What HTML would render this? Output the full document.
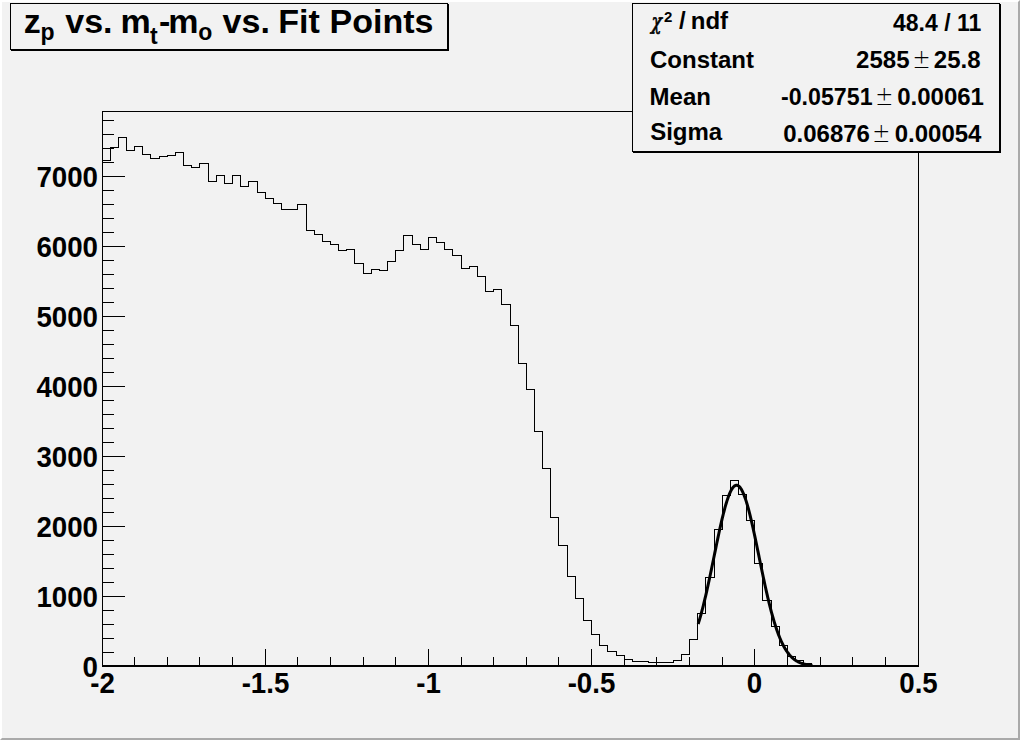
<!DOCTYPE html>
<html><head><meta charset="utf-8">
<style>
html,body{margin:0;padding:0;background:#f2f2f2;}
svg{display:block;}
</style></head>
<body>
<svg width="1020" height="740" viewBox="0 0 1020 740" font-family="'Liberation Sans',Arial,Helvetica,sans-serif" font-weight="bold">
<rect x="0" y="0" width="1020" height="740" fill="#f2f2f2"/>
<!-- canvas bevel -->
<path d="M0,0 H1020 L1018,2 H2 V738 L0,740 Z" fill="#ffffff"/>
<path d="M1020,0 V740 H0 L2,738 H1018 V2 Z" fill="#aaaaaa"/>
<!-- frame -->
<g fill="none" stroke="#000" stroke-width="1" shape-rendering="crispEdges">
<rect x="102.5" y="111.5" width="816" height="554"/>
<path d="M102.5,666.5 h22 M102.5,652.5 h11 M102.5,638.5 h11 M102.5,624.5 h11 M102.5,610.5 h11 M102.5,596.5 h22 M102.5,582.5 h11 M102.5,568.5 h11 M102.5,554.5 h11 M102.5,540.5 h11 M102.5,526.5 h22 M102.5,512.5 h11 M102.5,498.5 h11 M102.5,484.5 h11 M102.5,470.5 h11 M102.5,456.5 h22 M102.5,442.5 h11 M102.5,428.5 h11 M102.5,414.5 h11 M102.5,400.5 h11 M102.5,386.5 h22 M102.5,372.5 h11 M102.5,358.5 h11 M102.5,344.5 h11 M102.5,330.5 h11 M102.5,316.5 h22 M102.5,302.5 h11 M102.5,288.5 h11 M102.5,274.5 h11 M102.5,260.5 h11 M102.5,246.5 h22 M102.5,232.5 h11 M102.5,218.5 h11 M102.5,204.5 h11 M102.5,190.5 h11 M102.5,176.5 h22 M102.5,162.5 h11 M102.5,148.5 h11 M102.5,134.5 h11 M102.5,120.5 h11 M102.5,665 v-16 M134.5,665 v-8 M167.5,665 v-8 M199.5,665 v-8 M232.5,665 v-8 M265.5,665 v-16 M297.5,665 v-8 M330.5,665 v-8 M363.5,665 v-8 M395.5,665 v-8 M428.5,665 v-16 M461.5,665 v-8 M493.5,665 v-8 M526.5,665 v-8 M558.5,665 v-8 M591.5,665 v-16 M624.5,665 v-8 M656.5,665 v-8 M689.5,665 v-8 M722.5,665 v-8 M754.5,665 v-16 M787.5,665 v-8 M820.5,665 v-8 M852.5,665 v-8 M885.5,665 v-8 M918.5,665 v-16"/>
</g>
<line x1="102" y1="666" x2="919" y2="666" stroke="#000" stroke-width="2" shape-rendering="crispEdges"/>
<path d="M102.5,160.5 L110.5,160.5 L110.5,147.5 L118.5,147.5 L118.5,137.5 L126.5,137.5 L126.5,150.5 L134.5,150.5 L134.5,146.5 L142.5,146.5 L142.5,154.5 L150.5,154.5 L150.5,158.5 L159.5,158.5 L159.5,156.5 L167.5,156.5 L167.5,155.5 L175.5,155.5 L175.5,152.5 L183.5,152.5 L183.5,165.5 L191.5,165.5 L191.5,167.5 L199.5,167.5 L199.5,163.5 L208.5,163.5 L208.5,181.5 L216.5,181.5 L216.5,175.5 L224.5,175.5 L224.5,183.5 L232.5,183.5 L232.5,175.5 L240.5,175.5 L240.5,186.5 L248.5,186.5 L248.5,181.5 L257.5,181.5 L257.5,192.5 L265.5,192.5 L265.5,198.5 L273.5,198.5 L273.5,203.5 L281.5,203.5 L281.5,209.5 L289.5,209.5 L289.5,209.5 L297.5,209.5 L297.5,204.5 L306.5,204.5 L306.5,230.5 L314.5,230.5 L314.5,234.5 L322.5,234.5 L322.5,241.5 L330.5,241.5 L330.5,244.5 L338.5,244.5 L338.5,250.5 L346.5,250.5 L346.5,249.5 L354.5,249.5 L354.5,263.5 L363.5,263.5 L363.5,273.5 L371.5,273.5 L371.5,269.5 L379.5,269.5 L379.5,270.5 L387.5,270.5 L387.5,261.5 L395.5,261.5 L395.5,250.5 L403.5,250.5 L403.5,235.5 L412.5,235.5 L412.5,244.5 L420.5,244.5 L420.5,249.5 L428.5,249.5 L428.5,237.5 L436.5,237.5 L436.5,242.5 L444.5,242.5 L444.5,249.5 L452.5,249.5 L452.5,255.5 L461.5,255.5 L461.5,268.5 L469.5,268.5 L469.5,266.5 L477.5,266.5 L477.5,276.5 L485.5,276.5 L485.5,291.5 L493.5,291.5 L493.5,289.5 L501.5,289.5 L501.5,304.5 L510.5,304.5 L510.5,325.5 L518.5,325.5 L518.5,363.5 L526.5,363.5 L526.5,389.5 L534.5,389.5 L534.5,431.5 L542.5,431.5 L542.5,468.5 L550.5,468.5 L550.5,517.5 L558.5,517.5 L558.5,545.5 L567.5,545.5 L567.5,576.5 L575.5,576.5 L575.5,598.5 L583.5,598.5 L583.5,620.5 L591.5,620.5 L591.5,634.5 L599.5,634.5 L599.5,645.5 L607.5,645.5 L607.5,651.5 L616.5,651.5 L616.5,655.5 L624.5,655.5 L624.5,659.5 L632.5,659.5 L632.5,661.5 L640.5,661.5 L640.5,661.5 L648.5,661.5 L648.5,662.5 L656.5,662.5 L656.5,662.5 L665.5,662.5 L665.5,662.5 L673.5,662.5 L673.5,660.5 L681.5,660.5 L681.5,654.5 L689.5,654.5 L689.5,639.5 L697.5,639.5 L697.5,613.5 L705.5,613.5 L705.5,577.5 L714.5,577.5 L714.5,529.5 L722.5,529.5 L722.5,495.5 L730.5,495.5 L730.5,480.5 L738.5,480.5 L738.5,494.5 L746.5,494.5 L746.5,520.5 L754.5,520.5 L754.5,563.5 L762.5,563.5 L762.5,600.5 L771.5,600.5 L771.5,626.5 L779.5,626.5 L779.5,645.5 L787.5,645.5 L787.5,656.5 L795.5,656.5 L795.5,660.5 L803.5,660.5 L803.5,663.5 L811.5,663.5 L811.5,666.5 L820.5,666.5 L820.5,666.5 L828.5,666.5 L828.5,666.5 L836.5,666.5 L836.5,666.5 L844.5,666.5 L844.5,666.5 L852.5,666.5 L852.5,666.5 L860.5,666.5 L860.5,666.5 L869.5,666.5 L869.5,666.5 L877.5,666.5 L877.5,666.5 L885.5,666.5 L885.5,666.5 L893.5,666.5 L893.5,666.5 L901.5,666.5 L901.5,666.5 L909.5,666.5 L909.5,666.5 L918.5,666.5" fill="none" stroke="#000" stroke-width="1" shape-rendering="crispEdges"/>
<path d="M698.18,624.01 L698.75,622.16 L699.32,620.26 L699.89,618.30 L700.46,616.29 L701.04,614.23 L701.61,612.13 L702.18,609.97 L702.75,607.76 L703.32,605.51 L703.89,603.21 L704.46,600.86 L705.03,598.47 L705.61,596.04 L706.18,593.56 L706.75,591.05 L707.32,588.50 L707.89,585.92 L708.46,583.30 L709.03,580.65 L709.60,577.98 L710.18,575.28 L710.75,572.56 L711.32,569.82 L711.89,567.06 L712.46,564.29 L713.03,561.51 L713.60,558.72 L714.17,555.93 L714.74,553.14 L715.32,550.36 L715.89,547.58 L716.46,544.81 L717.03,542.06 L717.60,539.33 L718.17,536.63 L718.74,533.95 L719.31,531.30 L719.89,528.69 L720.46,526.12 L721.03,523.59 L721.60,521.11 L722.17,518.69 L722.74,516.32 L723.31,514.01 L723.88,511.76 L724.46,509.59 L725.03,507.48 L725.60,505.45 L726.17,503.50 L726.74,501.64 L727.31,499.85 L727.88,498.16 L728.45,496.56 L729.02,495.06 L729.60,493.66 L730.17,492.35 L730.74,491.15 L731.31,490.06 L731.88,489.07 L732.45,488.19 L733.02,487.43 L733.59,486.77 L734.17,486.23 L734.74,485.81 L735.31,485.50 L735.88,485.31 L736.45,485.24 L737.02,485.28 L737.59,485.44 L738.16,485.71 L738.74,486.11 L739.31,486.61 L739.88,487.24 L740.45,487.97 L741.02,488.82 L741.59,489.78 L742.16,490.84 L742.73,492.01 L743.30,493.29 L743.88,494.67 L744.45,496.14 L745.02,497.72 L745.59,499.38 L746.16,501.14 L746.73,502.98 L747.30,504.91 L747.87,506.92 L748.45,509.00 L749.02,511.16 L749.59,513.39 L750.16,515.68 L750.73,518.03 L751.30,520.44 L751.87,522.91 L752.44,525.42 L753.02,527.98 L753.59,530.58 L754.16,533.22 L754.73,535.89 L755.30,538.59 L755.87,541.31 L756.44,544.06 L757.01,546.82 L757.58,549.59 L758.16,552.38 L758.73,555.16 L759.30,557.95 L759.87,560.74 L760.44,563.53 L761.01,566.30 L761.58,569.06 L762.15,571.81 L762.73,574.53 L763.30,577.24 L763.87,579.92 L764.44,582.58 L765.01,585.20 L765.58,587.80 L766.15,590.35 L766.72,592.88 L767.30,595.36 L767.87,597.81 L768.44,600.21 L769.01,602.57 L769.58,604.88 L770.15,607.15 L770.72,609.37 L771.29,611.54 L771.86,613.66 L772.44,615.73 L773.01,617.75 L773.58,619.72 L774.15,621.64 L774.72,623.51 L775.29,625.32 L775.86,627.09 L776.43,628.80 L777.01,630.45 L777.58,632.06 L778.15,633.61 L778.72,635.12 L779.29,636.57 L779.86,637.97 L780.43,639.32 L781.00,640.63 L781.58,641.88 L782.15,643.09 L782.72,644.25 L783.29,645.37 L783.86,646.44 L784.43,647.47 L785.00,648.46 L785.57,649.40 L786.14,650.30 L786.72,651.17 L787.29,651.99 L787.86,652.78 L788.43,653.53 L789.00,654.25 L789.57,654.93 L790.14,655.58 L790.71,656.20 L791.29,656.78 L791.86,657.34 L792.43,657.87 L793.00,658.37 L793.57,658.85 L794.14,659.30 L794.71,659.72 L795.28,660.13 L795.86,660.51 L796.43,660.87 L797.00,661.20 L797.57,661.52 L798.14,661.82 L798.71,662.11 L799.28,662.37 L799.85,662.62 L800.42,662.86 L801.00,663.08 L801.57,663.29 L802.14,663.48 L802.71,663.66 L803.28,663.83 L803.85,663.99 L804.42,664.14 L804.99,664.28 L805.57,664.41 L806.14,664.53 L806.71,664.64 L807.28,664.74 L807.85,664.84 L808.42,664.93 L808.99,665.02 L809.56,665.09 L810.14,665.17 L810.71,665.23 L811.28,665.29 L811.85,665.35 L812.42,665.41" fill="none" stroke="#000" stroke-width="3" stroke-linejoin="round"/>
<g font-size="29">
<text transform="translate(98,677) scale(0.955,1)" text-anchor="end">0</text>
<text transform="translate(98,607) scale(0.955,1)" text-anchor="end">1000</text>
<text transform="translate(98,537) scale(0.955,1)" text-anchor="end">2000</text>
<text transform="translate(98,467) scale(0.955,1)" text-anchor="end">3000</text>
<text transform="translate(98,397) scale(0.955,1)" text-anchor="end">4000</text>
<text transform="translate(98,327) scale(0.955,1)" text-anchor="end">5000</text>
<text transform="translate(98,257) scale(0.955,1)" text-anchor="end">6000</text>
<text transform="translate(98,187) scale(0.955,1)" text-anchor="end">7000</text>
<text transform="translate(102.5,693) scale(0.955,1)" text-anchor="middle">-2</text>
<text transform="translate(265.5,693) scale(0.955,1)" text-anchor="middle">-1.5</text>
<text transform="translate(428.5,693) scale(0.955,1)" text-anchor="middle">-1</text>
<text transform="translate(591.5,693) scale(0.955,1)" text-anchor="middle">-0.5</text>
<text transform="translate(754.5,693) scale(0.955,1)" text-anchor="middle">0</text>
<text transform="translate(918.5,693) scale(0.955,1)" text-anchor="middle">0.5</text>
</g>
<!-- title box -->
<rect x="10.5" y="3.5" width="437" height="46" fill="#f2f2f2" stroke="#000" stroke-width="1" shape-rendering="crispEdges"/>
<path d="M11,50.5 H448.5 V4" fill="none" stroke="#000" stroke-width="1" shape-rendering="crispEdges"/>
<g font-size="34">
<text x="23.7" y="33">z</text>
<text x="40.5" y="40" font-size="23">p</text>
<text x="65.3" y="33">vs.</text>
<text x="120.6" y="33">m</text>
<text x="150" y="43.5" font-size="23">t</text>
<text x="158.9" y="33">-</text>
<text x="168.3" y="33">m</text>
<text x="198.2" y="40" font-size="23">o</text>
<text x="222.6" y="33">vs.</text>
<text x="278.3" y="33">Fit</text>
<text x="329.5" y="33">Points</text>
</g>
<!-- stats box -->
<rect x="632.5" y="3.5" width="367" height="148" fill="#f2f2f2" stroke="#000" stroke-width="1" shape-rendering="crispEdges"/>
<path d="M633,152.5 H1000.5 V4" fill="none" stroke="#000" stroke-width="1" shape-rendering="crispEdges"/>
<g font-size="24">
<text transform="translate(649.5,29) scale(0.78,1)" font-size="22" font-family="'DejaVu Math TeX Gyre','DejaVu Serif',serif" font-style="italic" font-weight="normal" stroke="#000" stroke-width="0.7">χ</text>
<text x="664" y="22" font-size="15">2</text>
<text x="679" y="29">/</text>
<text x="690.8" y="29">ndf</text>
<text x="650" y="68">Constant</text>
<text x="649.6" y="105">Mean</text>
<text x="650.2" y="140">Sigma</text>
<text x="893" y="31" font-size="23">48.4 / 11</text>
<text x="856.1" y="68">2585</text>
<text transform="translate(912.4,68) scale(0.83,1)" font-size="26" font-family="'DejaVu Sans',sans-serif" font-weight="200">±</text>
<text x="933.8" y="68">25.8</text>
<text x="781" y="105" font-size="23.2">-0.05751</text>
<text transform="translate(875.3,105) scale(0.83,1)" font-size="26" font-family="'DejaVu Sans',sans-serif" font-weight="200">±</text>
<text x="897.2" y="105">0.00061</text>
<text x="783.2" y="142">0.06876</text>
<text transform="translate(872.2,142) scale(0.83,1)" font-size="26" font-family="'DejaVu Sans',sans-serif" font-weight="200">±</text>
<text x="894.7" y="142">0.00054</text>
</g>
</svg>
</body></html>
